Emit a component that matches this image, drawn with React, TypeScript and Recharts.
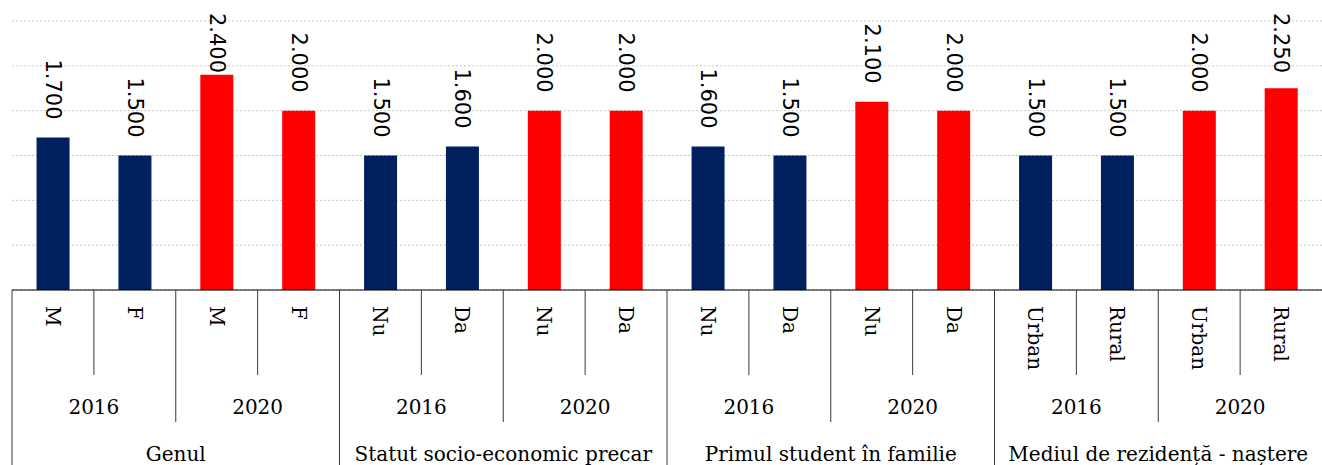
import { BarChart, Bar, XAxis, YAxis, CartesianGrid, Cell, LabelList } from 'recharts';

const categories = ['M', 'F', 'M', 'F', 'Nu', 'Da', 'Nu', 'Da', 'Nu', 'Da', 'Nu', 'Da', 'Urban', 'Rural', 'Urban', 'Rural'];
const years = ['2016', '2016', '2020', '2020', '2016', '2016', '2020', '2020', '2016', '2016', '2020', '2020', '2016', '2016', '2020', '2020'];
const groups = [
  'Genul', 'Genul', 'Genul', 'Genul',
  'Statut socio-economic precar', 'Statut socio-economic precar', 'Statut socio-economic precar', 'Statut socio-economic precar',
  'Primul student în familie', 'Primul student în familie', 'Primul student în familie', 'Primul student în familie',
  'Mediul de rezidență - naștere', 'Mediul de rezidență - naștere', 'Mediul de rezidență - naștere', 'Mediul de rezidență - naștere',
];
const values = [1700, 1500, 2400, 2000, 1500, 1600, 2000, 2000, 1600, 1500, 2100, 2000, 1500, 1500, 2000, 2250];
const yTicks = [0, 500, 1000, 1500, 2000, 2500, 3000];

const yearColors: Record<string, string> = { '2016': '#002060', '2020': '#ff0000' };

const data = categories.map((c, i) => ({ key: i, cat: c, year: years[i], group: groups[i], value: values[i] }));

const W = 1322;
const H = 465;
const M = { top: 21, right: 0, left: 12, bottom: 0 };
const AXIS_H = 175;
const AXIS_Y = H - AXIS_H;
const BAND = (W - M.left - M.right) / categories.length;

const SERIF = '"DejaVu Serif", serif';
const SANS = '"DejaVu Sans", sans-serif';
const AXIS_SIZE = 20;
const LABEL_SIZE = 21;

const fmt = (v: number) => {
  const th = Math.floor(v / 1000);
  const rest = String(v % 1000).padStart(3, '0');
  return th > 0 ? `${th}.${rest}` : String(v);
};

// span start / length helpers for the nested axis levels
const spanStart = (arr: string[], i: number) => i === 0 || arr[i] !== arr[i - 1] || groups[i] !== groups[i - 1];
const spanLen = (arr: string[], i: number) => {
  let n = 1;
  while (i + n < arr.length && arr[i + n] === arr[i] && groups[i + n] === groups[i]) n++;
  return n;
};

const AxisTick = (props: any) => {
  const { x, index } = props;
  const cx = Number(x);
  const lx = cx - BAND / 2;
  let lineEnd = AXIS_Y + 85;
  if (spanStart(groups, index)) lineEnd = H;
  else if (spanStart(years, index)) lineEnd = AXIS_Y + 132;
  const out: any[] = [];
  out.push(<line key="sep" x1={lx} x2={lx} y1={AXIS_Y} y2={lineEnd} stroke="#3a3a3a" strokeWidth={1} />);
  out.push(
    <text key="cat" x={cx} y={AXIS_Y + 16} transform={`rotate(90 ${cx} ${AXIS_Y + 16})`}
      textAnchor="start" dominantBaseline="central" fontFamily={SERIF} fontSize={AXIS_SIZE} fill="#000">
      {categories[index]}
    </text>
  );
  if (spanStart(years, index)) {
    const n = spanLen(years, index);
    const mx = lx + (n * BAND) / 2;
    out.push(
      <text key="yr" x={mx} y={AXIS_Y + 117} textAnchor="middle" dominantBaseline="central"
        fontFamily={SERIF} fontSize={AXIS_SIZE} fill="#000">{years[index]}</text>
    );
  }
  if (spanStart(groups, index)) {
    const n = spanLen(groups, index);
    const mx = lx + (n * BAND) / 2;
    out.push(
      <text key="grp" x={mx} y={AXIS_Y + 164} textAnchor="middle" dominantBaseline="central"
        fontFamily={SERIF} fontSize={AXIS_SIZE} fill="#000">{groups[index]}</text>
    );
  }
  return <g>{out}</g>;
};

const ValueLabel = (props: any) => {
  const { x, y, width, value } = props;
  const cx = Number(x) + Number(width) / 2;
  const txt = fmt(Number(value));
  const len = LABEL_SIZE * 2.86;
  const endY = Math.max(Number(y) - 18, 13 + len);
  return (
    <text x={cx} y={endY} transform={`rotate(90 ${cx} ${endY})`} textAnchor="end"
      dominantBaseline="central" fontFamily={SANS} fontSize={LABEL_SIZE} fill="#000">
      {txt}
    </text>
  );
};

export default function App() {
  return (
    <div style={{ position: 'absolute', left: 0, top: 0, width: W, height: H, background: '#fff' }}>
      <BarChart width={W} height={H} data={data} margin={M} barCategoryGap="30%">
        <CartesianGrid horizontal vertical={false} stroke="#c6c6c6" strokeDasharray="2 2" />
        <YAxis hide domain={[0, 3000]} ticks={yTicks} />
        <XAxis dataKey="key" height={AXIS_H} interval={0} tickLine={false} tickSize={0}
          axisLine={{ stroke: '#000', strokeWidth: 1 }} tick={<AxisTick />} />
        <Bar dataKey="value" isAnimationActive={false}>
          {data.map((d) => (
            <Cell key={d.key} fill={yearColors[d.year]} />
          ))}
          <LabelList dataKey="value" content={<ValueLabel />} />
        </Bar>
      </BarChart>
    </div>
  );
}
